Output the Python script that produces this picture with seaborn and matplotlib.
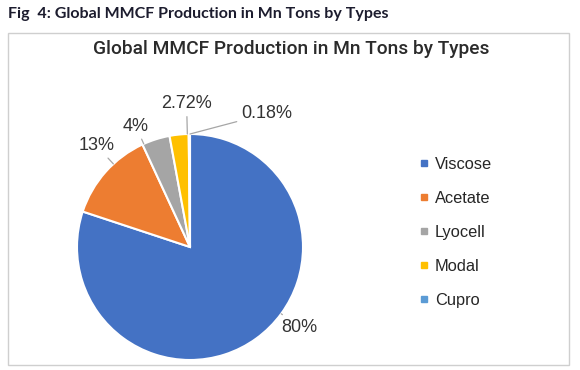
import numpy as np
import matplotlib
matplotlib.use("Agg")
import matplotlib.pyplot as plt
from matplotlib.patches import Rectangle
from matplotlib.lines import Line2D
import seaborn as sns

# ---- data ----
categories = ["Viscose", "Acetate", "Lyocell", "Modal", "Cupro"]
shares = [80, 13, 4, 2.72, 0.18]
share_labels = ["80%", "13%", "4%", "2.72%", "0.18%"]
colors = ["#4472C4", "#ED7D31", "#A5A5A5", "#FFC000", "#5B9BD5"]
fig_title = "Fig  4: Global MMCF Production in Mn Tons by Types"
chart_title = "Global MMCF Production in Mn Tons by Types"

sns.set_theme(style="white")
plt.rcParams["font.family"] = ["Liberation Sans", "DejaVu Sans"]

W, H = 580, 370
fig = plt.figure(figsize=(W / 100, H / 100), dpi=100)
fig.patch.set_facecolor("white")

# outer caption
fig.text(8 / W, 1 - 14 / H, fig_title, ha="left", va="center", fontsize=11.5,
         fontweight="bold", color="#1c1c2e", family=["Lato", "DejaVu Sans"])

# chart border
fig.add_artist(Rectangle((8 / W, 1 - 365 / H), (569 - 8) / W, (365 - 33) / H,
                         transform=fig.transFigure, fill=False,
                         edgecolor="#cfcfcf", linewidth=1.0))

# chart title
fig.text(291 / W, 1 - 49 / H, chart_title, ha="center", va="center",
         fontsize=13.8, color="#2b2b2b", fontweight="medium",
         family=["Roboto", "Liberation Sans", "DejaVu Sans"])

# pie axes
cx, cy, r = 190, 247, 113
ax = fig.add_axes([(cx - r) / W, (H - cy - r) / H, 2 * r / W, 2 * r / H])
wedges, _ = ax.pie(shares, colors=colors, startangle=90, counterclock=False,
                   wedgeprops=dict(edgecolor="white", linewidth=1.5))
ax.set_xlim(-1, 1)
ax.set_ylim(-1, 1)
ax.axis("off")

# label positions (relative to pie radius)
label_pos = [(0.97, -0.71), (-0.83, 0.90), (-0.48, 1.07), (-0.03, 1.27), (0.68, 1.18)]
for w, lab, (lx, ly) in zip(wedges, share_labels, label_pos):
    t1, t2 = sorted([w.theta1, w.theta2])
    ang = np.degrees(np.arctan2(ly, lx)) % 360
    cand = [a for a in (ang, ang - 360, ang + 360) if t1 <= a <= t2]
    a = cand[0] if cand else (t1 if min(abs(ang - t1), abs(ang - t1 - 360)) < min(abs(ang - t2), abs(ang - t2 + 360)) else t2)
    ax.annotate(lab, xy=(np.cos(np.radians(a)), np.sin(np.radians(a))),
                xytext=(lx, ly), ha="center", va="center", fontsize=13,
                color="#333333", annotation_clip=False,
                arrowprops=dict(arrowstyle="-", color="#a6a6a6", lw=0.9,
                                shrinkA=1, shrinkB=0))

# legend
handles = [Line2D([0], [0], marker="s", linestyle="none", markersize=5,
                  markerfacecolor=c, markeredgecolor=c) for c in colors]
fig.legend(handles, categories, loc="upper left",
           bbox_to_anchor=(411 / W, 1 - 149 / H), frameon=False,
           fontsize=11.8, labelspacing=1.15, handlelength=0.6,
           handletextpad=0.35, borderpad=0, labelcolor="#262626")

fig.savefig("out.png", dpi=100, facecolor="white")
